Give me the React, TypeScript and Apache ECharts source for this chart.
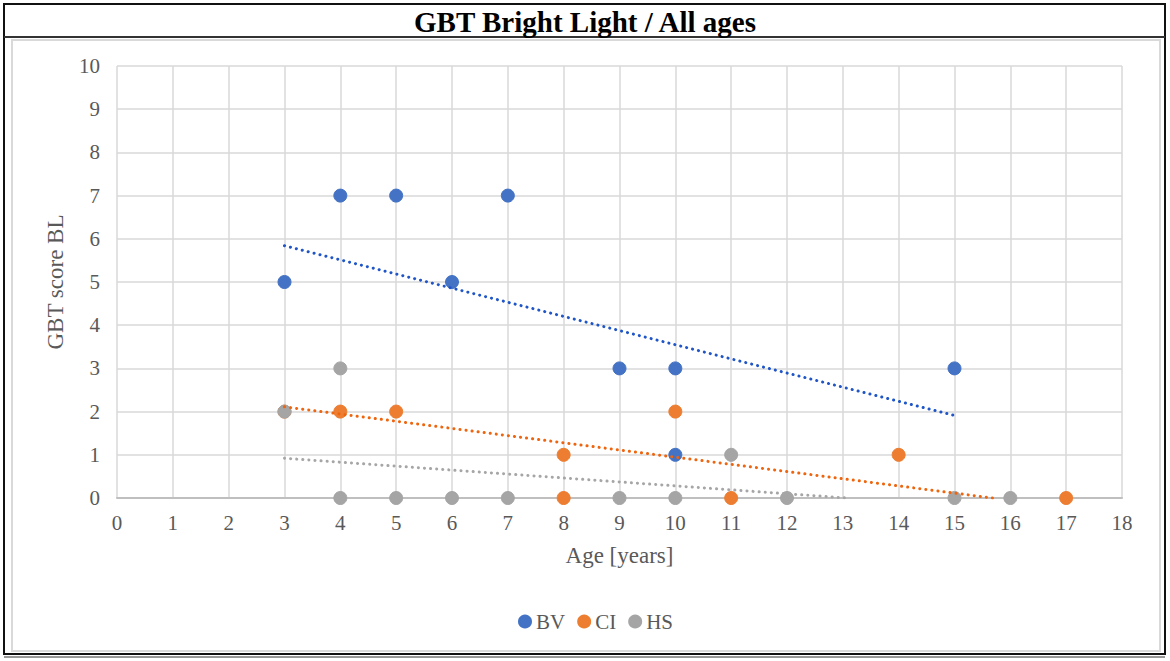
import React, { useEffect, useRef } from "react";
import * as echarts from "echarts";

const titleText = "GBT Bright Light / All ages";
const xAxisTitle = "Age [years]";
const yAxisTitle = "GBT score BL";
const seriesNames = ["BV", "CI", "HS"];
const seriesColors = ["#4472C4", "#ED7D31", "#A5A5A5"];
const trendColors = ["#1F55C6", "#EE650F", "#A6A6A6"];

const bvPoints = [[3, 5], [4, 7], [5, 7], [6, 5], [7, 7], [9, 3], [10, 3], [10, 1], [15, 3]];
const ciPoints = [[3, 2], [4, 2], [5, 2], [8, 1], [8, 0], [10, 2], [11, 0], [14, 1], [17, 0]];
const hsPoints = [[3, 2], [4, 3], [4, 0], [5, 0], [6, 0], [7, 0], [9, 0], [10, 0], [11, 1], [12, 0], [15, 0], [16, 0]];

// linear trendline end points
const bvTrend = [[3, 5.84], [15, 1.91]];
const ciTrend = [[3, 2.11], [15.68, 0]];
const hsTrend = [[3, 0.92], [13.07, 0]];

const xMin = 0, xMax = 18, xStep = 1;
const yMin = 0, yMax = 10, yStep = 1;

const serif = "'Liberation Serif', 'Times New Roman', serif";

export default function App() {
  const ref = useRef<HTMLDivElement>(null);
  useEffect(() => {
    if (!ref.current) return;
    const chart = echarts.init(ref.current, null, { renderer: "svg" });
    const points = [bvPoints, ciPoints, hsPoints];
    const trends = [bvTrend, ciTrend, hsTrend];
    const scatterSeries = seriesNames.map((name, i) => ({
      name,
      type: "scatter",
      data: points[i],
      symbol: "circle",
      symbolSize: 13,
      z: 2,
      itemStyle: { color: seriesColors[i], borderColor: seriesColors[i], borderWidth: 1, opacity: 1 },
    }));
    const trendSeries = seriesNames.map((name, i) => ({
      name: name + " trend",
      type: "line",
      data: trends[i],
      symbol: "none",
      z: 3,
      silent: true,
      lineStyle: { color: trendColors[i], width: 3, type: [0.1, 6], cap: "round" },
    }));
    chart.setOption({
      animation: false,
      backgroundColor: "#ffffff",
      title: {
        text: titleText,
        left: "center",
        top: 2,
        textStyle: { fontFamily: serif, fontSize: 29, fontWeight: "bold", color: "#000000" },
      },
      legend: {
        data: seriesNames.map((n, i) => ({ name: n, icon: "circle", itemStyle: { color: seriesColors[i] } })),
        left: 513,
        top: 606,
        itemWidth: 12,
        itemHeight: 12,
        itemGap: 12,
        itemTextGap: 3,
        textStyle: { fontFamily: serif, fontSize: 21, color: "#595959" },
      },
      grid: { left: 117, right: 48, top: 66, bottom: 163 },
      xAxis: {
        type: "value",
        min: xMin,
        max: xMax,
        interval: xStep,
        name: xAxisTitle,
        nameLocation: "middle",
        nameGap: 46,
        nameTextStyle: { fontFamily: serif, fontSize: 23, color: "#595959" },
        axisLine: { show: true, onZero: false, lineStyle: { color: "#BFBFBF", width: 2 } },
        axisTick: { show: false },
        axisLabel: { fontFamily: serif, fontSize: 21, color: "#595959", margin: 14 },
        splitLine: { show: true, lineStyle: { color: "#D9D9D9", width: 1.5 } },
      },
      yAxis: {
        type: "value",
        min: yMin,
        max: yMax,
        interval: yStep,
        name: yAxisTitle,
        nameLocation: "middle",
        nameGap: 50,
        nameTextStyle: { fontFamily: serif, fontSize: 23, color: "#595959" },
        axisLine: { show: false },
        axisTick: { show: false },
        axisLabel: { fontFamily: serif, fontSize: 21, color: "#595959", margin: 17 },
        splitLine: { show: true, lineStyle: { color: "#D9D9D9", width: 1.5 } },
      },
      graphic: [
        { type: "rect", silent: true, shape: { x: 12, y: 40, width: 1148, height: 611 }, style: { fill: "none", stroke: "#D9D9D9", lineWidth: 2 } },
        { type: "rect", silent: true, shape: { x: 4, y: 4, width: 1161, height: 650 }, style: { fill: "none", stroke: "#111111", lineWidth: 2 } },
        { type: "line", silent: true, shape: { x1: 4, y1: 37, x2: 1165, y2: 37 }, style: { stroke: "#333333", lineWidth: 2 } },
        { type: "line", silent: true, shape: { x1: 4, y1: 657, x2: 1165, y2: 657 }, style: { stroke: "#333333", lineWidth: 1 } },
      ],
      series: [...scatterSeries, ...trendSeries],
    });
    return () => chart.dispose();
  }, []);
  return (
    <div
      ref={ref}
      style={{ position: "fixed", left: 0, top: 0, width: 1170, height: 661, background: "#ffffff" }}
    />
  );
}
